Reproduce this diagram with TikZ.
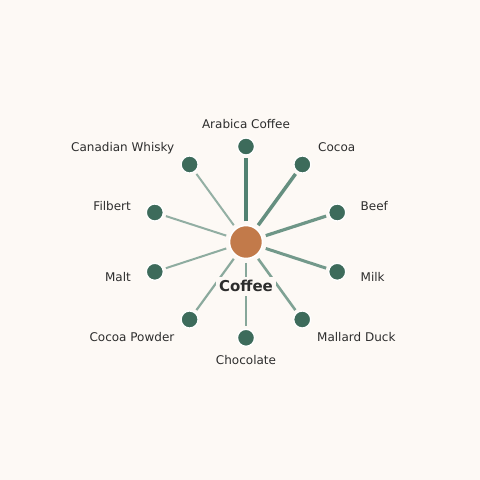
\documentclass[tikz,border=0pt]{standalone}
\usepackage{fontspec}
\setmainfont{DejaVu Sans}
\definecolor{bg}{HTML}{FDF9F5}
\definecolor{leaf}{HTML}{3D6B5B}
\definecolor{hub}{HTML}{C27A4A}
\definecolor{edgec}{HTML}{3F7563}
\definecolor{txt}{HTML}{2D2D2D}
\begin{document}
\begin{tikzpicture}[x=1pt,y=-1pt,
  leafnode/.style={circle,fill=leaf,draw=white,line width=1.3pt,minimum size=17pt,inner sep=0pt},
  hubnode/.style={circle,fill=hub,draw=white,line width=1.5pt,minimum size=33pt,inner sep=0pt},
  lbl/.style={font=\fontsize{12}{14}\selectfont,text=txt,text height=8.7pt,text depth=0pt,inner sep=0pt},
  link/.style={draw=edgec,line cap=butt,shorten <=3.5pt,shorten >=2.5pt}]
\fill[bg] (0,0) rectangle (480,480);
\useasboundingbox (0,0) rectangle (480,480);
\node[hubnode] (c) at (246,242) {};
\node[leafnode] (n1) at (246,146.5) {};
\node[leafnode] (n2) at (302.4,164.5) {};
\node[leafnode] (n3) at (337.2,212.5) {};
\node[leafnode] (n4) at (337.2,271.8) {};
\node[leafnode] (n5) at (302.2,319.5) {};
\node[leafnode] (n6) at (246,337.8) {};
\node[leafnode] (n7) at (189.6,319.5) {};
\node[leafnode] (n8) at (154.8,271.8) {};
\node[leafnode] (n9) at (154.8,212.5) {};
\node[leafnode] (n10) at (189.6,164.5) {};
\draw[link,line width=4pt,draw opacity=0.9] (c) -- (n1);
\draw[link,line width=3.5pt,draw opacity=0.8] (c) -- (n2);
\draw[link,line width=3.2pt,draw opacity=0.75] (c) -- (n3);
\draw[link,line width=3pt,draw opacity=0.72] (c) -- (n4);
\draw[link,line width=2.6pt,draw opacity=0.66] (c) -- (n5);
\draw[link,line width=2.3pt,draw opacity=0.62] (c) -- (n6);
\draw[link,line width=2.2pt,draw opacity=0.6] (c) -- (n7);
\draw[link,line width=2pt,draw opacity=0.58] (c) -- (n8);
\draw[link,line width=2pt,draw opacity=0.56] (c) -- (n9);
\draw[link,line width=2pt,draw opacity=0.55] (c) -- (n10);
\node[fill=bg,inner xsep=3pt,inner ysep=4pt,text=txt,font=\bfseries\fontsize{15}{18}\selectfont,text height=11pt,text depth=0pt] (title) at (246,286) {Coffee};
\node[lbl] (l1) at (246,124) {Arabica Coffee};
\node[lbl,anchor=west] (l2) at (318,147) {Cocoa};
\node[lbl,anchor=west] (l3) at (360.5,206) {Beef};
\node[lbl,anchor=west] (l4) at (360.5,277.5) {Milk};
\node[lbl,anchor=west] (l5) at (317,337) {Mallard Duck};
\node[lbl] (l6) at (246,360) {Chocolate};
\node[lbl,anchor=east] (l7) at (174.5,337) {Cocoa Powder};
\node[lbl,anchor=east] (l8) at (131,277.5) {Malt};
\node[lbl,anchor=east] (l9) at (131,206) {Filbert};
\node[lbl,anchor=east] (l10) at (174.5,147) {Canadian Whisky};
\end{tikzpicture}
\end{document}
